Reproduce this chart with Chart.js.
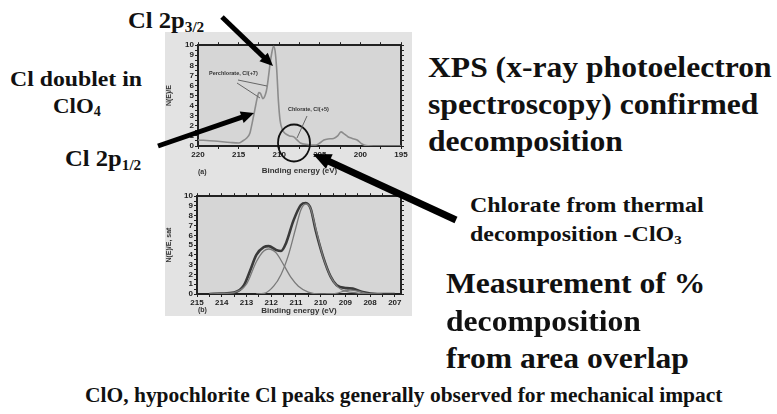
<!DOCTYPE html>
<html>
<head>
<meta charset="utf-8">
<script src="https://cdn.jsdelivr.net/npm/chart.js@4.4.0/dist/chart.umd.min.js"></script>
<style>
  body { margin: 0; background: #fff; }
  #page { position: relative; width: 777px; height: 414px; overflow: hidden; background: #fff; }
  #figure { position: absolute; left: 165px; top: 32px; width: 247px; height: 284px; background: #e3e3e3; }
  canvas { position: absolute; }
  .t { position: absolute; font-family: 'Liberation Serif', 'Times New Roman', serif; font-weight: bold;
       color: #111; line-height: 1; white-space: nowrap; transform-origin: 0 0; }
  .t sub { font-size: 0.62em; vertical-align: -0.25em; line-height: 0; }
  .s { position: absolute; font-family: 'Liberation Sans', Arial, sans-serif; font-weight: bold;
       color: #333; line-height: 1; white-space: nowrap; }
  svg { position: absolute; left: 0; top: 0; }
</style>
</head>
<body>
<div id="page">
  <div id="figure"></div>
  <canvas id="topChart" width="245" height="141" style="left:165px;top:35px"></canvas>
  <canvas id="bottomChart" width="245" height="130" style="left:165px;top:186px"></canvas>

  <div class="s" style="left:209px;top:71px;font-size:5.5px">Perchlorate, Cl(+7)</div>
  <div class="s" style="left:288px;top:107px;font-size:5.5px">Chlorate, Cl(+5)</div>
  <div class="s" style="left:198px;top:168px;font-size:7px">(a)</div>
  <div class="s" style="left:198px;top:306px;font-size:7px">(b)</div>

  <div class="t" style="left:128px;top:9px;font-size:23px;transform:scaleX(1.07)">Cl 2p<sub>3/2</sub></div>
  <div class="t" style="left:10px;top:68px;font-size:22px;transform:scaleX(1.08)">Cl doublet in</div>
  <div class="t" style="left:53px;top:95px;font-size:22px;transform:scaleX(1.04)">ClO<sub>4</sub></div>
  <div class="t" style="left:65px;top:147px;font-size:23px;transform:scaleX(1.07)">Cl 2p<sub>1/2</sub></div>

  <div class="t" style="left:428px;top:53px;font-size:29px;transform:scaleX(1.09)">XPS (x-ray photoelectron</div>
  <div class="t" style="left:428px;top:90px;font-size:29px;transform:scaleX(1.09)">spectroscopy) confirmed</div>
  <div class="t" style="left:428px;top:127px;font-size:29px;transform:scaleX(1.09)">decomposition</div>

  <div class="t" style="left:470px;top:195px;font-size:21px;transform:scaleX(1.14)">Chlorate from thermal</div>
  <div class="t" style="left:470px;top:224px;font-size:21px;transform:scaleX(1.14)">decomposition -ClO<sub>3</sub></div>

  <div class="t" style="left:446px;top:269px;font-size:29px;transform:scaleX(1.09)">Measurement of %</div>
  <div class="t" style="left:446px;top:307px;font-size:29px;transform:scaleX(1.09)">decomposition</div>
  <div class="t" style="left:446px;top:344px;font-size:29px;transform:scaleX(1.09)">from area overlap</div>

  <div class="t" style="left:85px;top:385px;font-size:21px;transform:scaleX(1.023)">ClO, hypochlorite Cl peaks generally observed for mechanical impact</div>

  <svg id="marks" width="777" height="414"></svg>
</div>

<script>
// (a) survey spectrum: binding energy (eV) vs N(E)/E
const topEnergy = [220, 218, 216, 215, 214.5, 214, 213.6, 213.3, 213, 212.7, 212.5, 212.3, 212, 211.7, 211.5,
  211.3, 211.1, 210.9, 210.7, 210.5, 210.3, 210.1, 209.9, 209.6, 209.2, 208.7, 208.2, 207.8, 207.4, 206.5,
  205.5, 205, 204.5, 204, 203.3, 202.8, 202.4, 202, 201.5, 201, 200.4, 199.8, 199.3, 198, 195];
const topCounts = [0.6, 0.5, 0.35, 0.3, 0.5, 0.8, 1.3, 2.4, 3.6, 4.8, 5.3, 5.2, 4.7, 5.1, 5.8,
  7.0, 8.3, 9.3, 9.9, 9.4, 7.5, 4.5, 2.6, 1.6, 1.2, 1.0, 0.9, 0.6, 0.3, 0.15,
  0.1, 0.3, 0.6, 0.7, 0.75, 1.0, 1.4, 1.2, 0.9, 0.75, 0.6, 0.2, 0.05, 0, 0];

// (b) fitted spectrum: envelope and components
const fitEnergy = [214.5, 214, 213.5, 213.1, 212.85, 212.6, 212.3, 212.1, 211.8, 211.6, 211.4, 211.1, 210.8,
  210.6, 210.4, 210.2, 209.9, 209.6, 209.35, 208.95, 208.7, 208.3, 207.7, 207];
const envelope = [0, 0.05, 0.15, 0.9, 2.4, 4.0, 4.8, 4.9, 4.5, 4.4, 5.2, 7.5, 9.1,
  9.3, 8.7, 6.5, 3.8, 1.8, 0.9, 0.6, 0.55, 0.2, 0, 0];
const comp1Energy = [214.5, 214, 213.5, 213, 212.6, 212.3, 212.1, 211.8, 211.5, 211.2, 210.9, 210.5, 210, 209.5];
const comp1 = [0, 0.05, 0.15, 1.0, 3.3, 4.4, 4.6, 4.2, 3.0, 1.7, 0.8, 0.2, 0, 0];
const comp2Energy = [212.6, 212.3, 211.9, 211.6, 211.3, 211.0, 210.8, 210.6, 210.4, 210.2, 209.9, 209.6, 209.3, 209, 208.5, 208];
const comp2 = [0, 0.05, 0.8, 2.0, 4.0, 6.8, 8.6, 9.2, 8.7, 6.7, 3.8, 1.8, 0.7, 0.3, 0.1, 0];
const comp3Energy = [209.8, 209.3, 209, 208.8, 208.5, 208.2, 207.9, 207.5];
const comp3 = [0, 0.1, 0.35, 0.4, 0.3, 0.1, 0.02, 0];

const pts = (xs, ys) => xs.map((x, i) => ({ x: x, y: ys[i] }));

const ink = '#222';
const tickFont = { family: "'Liberation Sans', Arial, sans-serif", size: 8, weight: 'bold' };

const plotFill = {
  id: 'plotFill',
  beforeDraw(chart) {
    const a = chart.chartArea, ctx = chart.ctx;
    ctx.save();
    ctx.fillStyle = '#d6d6d6';
    ctx.fillRect(a.left, a.top, a.right - a.left, a.bottom - a.top);
    ctx.restore();
  }
};

const onStep = n => v => (Math.abs(v / n - Math.round(v / n)) < 1e-6 ? v : '');

function frameScales(xMin, xMax, xStep, labelEvery, yWidth, xHeight, yTitle) {
  const gridCfg = { drawOnChartArea: false, drawTicks: true, tickLength: 3, color: ink, lineWidth: 1 };
  const borderCfg = { display: true, color: ink, width: 2 };
  return {
    x: {
      type: 'linear', reverse: true, min: xMin, max: xMax, position: 'bottom',
      ticks: { stepSize: xStep, includeBounds: false, autoSkip: false, maxRotation: 0, color: ink, font: tickFont,
               padding: 1, callback: onStep(labelEvery) },
      grid: gridCfg, border: borderCfg,
      title: { display: true, text: 'Binding energy (eV)', color: '#333', font: tickFont, padding: { top: 1, bottom: 0 } },
      afterFit: s => { s.height = xHeight; }
    },
    x2: {
      type: 'linear', reverse: true, min: xMin, max: xMax, position: 'top',
      ticks: { stepSize: xStep, includeBounds: false, autoSkip: false, callback: () => '' },
      grid: gridCfg, border: borderCfg,
      afterFit: s => { s.height = 10; }
    },
    y: {
      min: 0, max: 10, position: 'left',
      ticks: { stepSize: 0.5, autoSkip: false, color: ink, font: tickFont, padding: 1, callback: onStep(1) },
      grid: gridCfg, border: borderCfg,
      title: { display: true, text: yTitle, color: '#333', font: { ...tickFont, size: 7 }, padding: 0 },
      afterFit: s => { s.width = yWidth; }
    },
    y2: {
      min: 0, max: 10, position: 'right',
      ticks: { stepSize: 0.5, autoSkip: false, callback: () => '' },
      grid: gridCfg, border: borderCfg,
      afterFit: s => { s.width = 9; }
    }
  };
}

const baseOpts = {
  responsive: false, animation: false, devicePixelRatio: 1,
  layout: { padding: 0 },
  plugins: { legend: { display: false }, tooltip: { enabled: false } },
  elements: { point: { radius: 0 } }
};

new Chart(document.getElementById('topChart'), {
  type: 'line',
  data: {
    datasets: [{
      data: pts(topEnergy, topCounts), borderColor: '#8c8c8c', borderWidth: 1.6,
      cubicInterpolationMode: 'monotone', fill: false
    }]
  },
  options: { ...baseOpts, scales: frameScales(195, 220, 2.5, 5, 33, 30, 'N(E)/E') },
  plugins: [plotFill]
});

new Chart(document.getElementById('bottomChart'), {
  type: 'line',
  data: {
    datasets: [
      { data: pts(comp1Energy, comp1), borderColor: '#7a7a7a', borderWidth: 1.3, cubicInterpolationMode: 'monotone' },
      { data: pts(comp2Energy, comp2), borderColor: '#7a7a7a', borderWidth: 1.3, cubicInterpolationMode: 'monotone' },
      { data: pts(comp3Energy, comp3), borderColor: '#7a7a7a', borderWidth: 1.2, cubicInterpolationMode: 'monotone' },
      { data: pts(fitEnergy, envelope), borderColor: '#3a3a3a', borderWidth: 2.6, cubicInterpolationMode: 'monotone' }
    ]
  },
  options: { ...baseOpts, scales: frameScales(206.75, 215, 0.5, 1, 32, 22, 'N(E)/E, sat') },
  plugins: [plotFill]
});

// arrows, leader lines and circle drawn over the slide
const svg = document.getElementById('marks');
const NS = 'http://www.w3.org/2000/svg';
function el(name, attrs) {
  const e = document.createElementNS(NS, name);
  for (const k in attrs) e.setAttribute(k, attrs[k]);
  svg.appendChild(e);
  return e;
}
function arrow(x1, y1, x2, y2, w, hl, hw) {
  const dx = x2 - x1, dy = y2 - y1, L = Math.hypot(dx, dy);
  const ux = dx / L, uy = dy / L;
  const bx = x2 - ux * hl, by = y2 - uy * hl;
  el('line', { x1: x1, y1: y1, x2: bx + ux, y2: by + uy, stroke: '#000', 'stroke-width': w });
  el('polygon', {
    points: `${x2},${y2} ${bx - uy * hw},${by + ux * hw} ${bx + uy * hw},${by - ux * hw}`, fill: '#000'
  });
}
arrow(222, 17, 273, 66, 5, 13, 6);
arrow(158, 146, 254, 113, 5, 13, 6);
arrow(456, 220, 313, 154, 7, 18, 8);
el('ellipse', { cx: 294, cy: 143, rx: 16, ry: 18.5, fill: 'none', stroke: '#111', 'stroke-width': 1.8 });
el('line', { x1: 307, y1: 116, x2: 297, y2: 138, stroke: '#666', 'stroke-width': 1 });
el('line', { x1: 238, y1: 80, x2: 267, y2: 86, stroke: '#666', 'stroke-width': 1 });
el('line', { x1: 237, y1: 83, x2: 260, y2: 98, stroke: '#666', 'stroke-width': 1 });
</script>
</body>
</html>
